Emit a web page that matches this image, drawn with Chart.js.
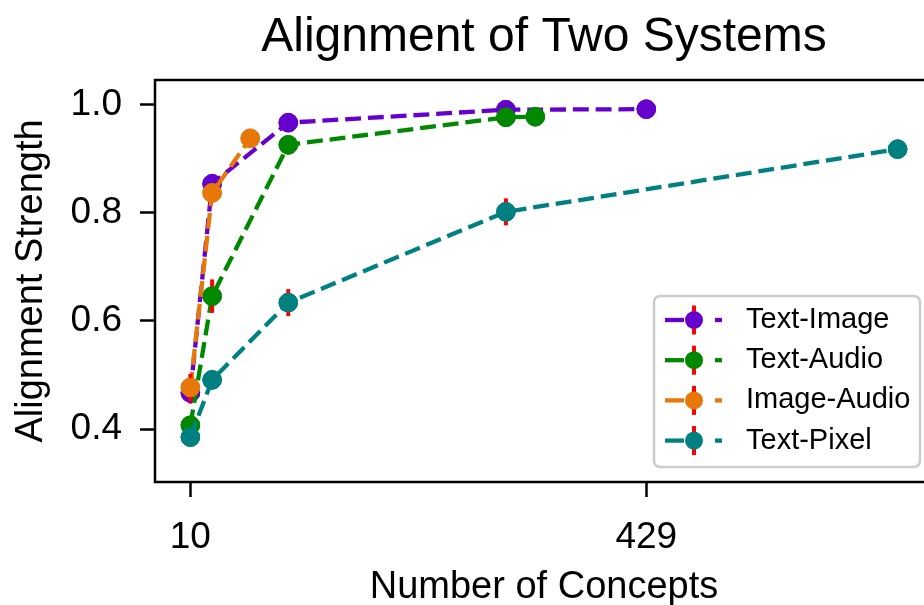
<!DOCTYPE html>
<html><head><meta charset="utf-8">
<script src="https://cdn.jsdelivr.net/npm/chart.js@4.4.1/dist/chart.umd.min.js"></script>
<style>
html,body{margin:0;padding:0;background:#fff;overflow:hidden;width:924px;height:605px;}
#wrap{position:absolute;left:0;top:0;width:960px;height:605px;}
canvas{display:block;}
</style></head><body>
<div id="wrap"><canvas id="c" width="960" height="605"></canvas></div>
<script>
const chartTitle = 'Alignment of Two Systems';
const xAxisLabel = 'Number of Concepts';
const yAxisLabel = 'Alignment Strength';
const seriesNames = ['Text-Image', 'Text-Audio', 'Image-Audio', 'Text-Pixel'];
const seriesColors = ['#6600cc', '#008800', '#e8770a', '#008080'];
const errorColor = '#ff0000';

const textImageX = [10, 30, 100, 300, 429];
const textImageY = [0.467, 0.854, 0.967, 0.991, 0.992];
const textImageErr = [0.02, 0.005, 0.004, 0.003, 0.002];

const textAudioX = [10, 30, 100, 300, 327];
const textAudioY = [0.407, 0.646, 0.926, 0.977, 0.978];
const textAudioErr = [0.008, 0.031, 0.006, 0.004, 0.003];

const imageAudioX = [10, 30, 65];
const imageAudioY = [0.477, 0.837, 0.938];
const imageAudioErr = [0.025, 0.006, 0.004];

const textPixelX = [10, 30, 100, 300, 660];
const textPixelY = [0.385, 0.491, 0.634, 0.802, 0.918];
const textPixelErr = [0.006, 0.017, 0.025, 0.025, 0.01];

const xTicks = [10, 429];
const yTicks = [0.4, 0.6, 0.8, 1.0];

const FONT = "'Liberation Sans', Arial, sans-serif";

const allX = [textImageX, textAudioX, imageAudioX, textPixelX];
const allY = [textImageY, textAudioY, imageAudioY, textPixelY];
const allErr = [textImageErr, textAudioErr, imageAudioErr, textPixelErr];

const datasets = seriesNames.map((name, k) => ({
  label: name,
  data: allX[k].map((x, i) => ({x: x, y: allY[k][i]})),
  err: allErr[k],
  borderColor: seriesColors[k],
  backgroundColor: seriesColors[k],
  pointBackgroundColor: seriesColors[k],
  pointBorderColor: seriesColors[k],
  pointBorderWidth: 1,
  pointRadius: 9.3,
  pointHoverRadius: 9.3,
  borderWidth: 4.3,
  borderDash: [15.9, 6.9],
  tension: 0,
  fill: false,
  order: seriesNames.length - 1 - k
}));

const errorBarPlugin = {
  id: 'errorBars',
  afterDatasetDraw(chart, args) {
    const ds = chart.data.datasets[args.index];
    const meta = args.meta;
    const ys = chart.scales.y;
    const ctx = chart.ctx;
    ctx.save();
    ctx.strokeStyle = errorColor;
    ctx.lineWidth = 4;
    ctx.setLineDash([]);
    meta.data.forEach((pt, i) => {
      const v = ds.data[i].y, e = ds.err[i];
      ctx.beginPath();
      ctx.moveTo(pt.x, ys.getPixelForValue(v + e));
      ctx.lineTo(pt.x, ys.getPixelForValue(v - e));
      ctx.stroke();
    });
    ctx.restore();
    meta.data.forEach(pt => pt.draw(ctx, chart.chartArea));
  }
};

const framePlugin = {
  id: 'frame',
  afterDatasetsDraw(chart) {
    const {ctx, chartArea: a} = chart;
    ctx.save();
    ctx.strokeStyle = '#000';
    ctx.lineWidth = 2.5;
    ctx.setLineDash([]);
    ctx.strokeRect(a.left, a.top, a.right - a.left, a.bottom - a.top);
    ctx.restore();
  }
};

const titlePlugin = {
  id: 'axesTitle',
  afterDraw(chart) {
    const {ctx, chartArea: a} = chart;
    ctx.save();
    ctx.fillStyle = '#000';
    ctx.font = '48px ' + FONT;
    ctx.textAlign = 'center';
    ctx.textBaseline = 'middle';
    ctx.fillText(chartTitle, (a.left + a.right) / 2, 38);
    ctx.restore();
  }
};

const legendPlugin = {
  id: 'customLegend',
  afterDraw(chart) {
    const ctx = chart.ctx;
    const bx = 654, by = 296, bw = 266, bh = 171, r = 6;
    ctx.save();
    ctx.beginPath();
    ctx.moveTo(bx + r, by);
    ctx.arcTo(bx + bw, by, bx + bw, by + bh, r);
    ctx.arcTo(bx + bw, by + bh, bx, by + bh, r);
    ctx.arcTo(bx, by + bh, bx, by, r);
    ctx.arcTo(bx, by, bx + bw, by, r);
    ctx.closePath();
    ctx.fillStyle = 'rgba(255,255,255,0.85)';
    ctx.fill();
    ctx.strokeStyle = '#cccccc';
    ctx.lineWidth = 2.5;
    ctx.stroke();
    chart.data.datasets.forEach((ds, k) => {
      const y = 320 + k * 40.2;
      const col = ds.borderColor;
      ctx.strokeStyle = col;
      ctx.lineWidth = 4.3;
      ctx.lineCap = 'butt';
      ctx.beginPath(); ctx.moveTo(665, y); ctx.lineTo(684, y); ctx.stroke();
      ctx.beginPath(); ctx.moveTo(715, y); ctx.lineTo(722, y); ctx.stroke();
      ctx.strokeStyle = errorColor;
      ctx.lineWidth = 4;
      ctx.beginPath(); ctx.moveTo(694, y - 14.5); ctx.lineTo(694, y + 14.5); ctx.stroke();
      ctx.fillStyle = col;
      ctx.beginPath(); ctx.arc(694, y, 9, 0, Math.PI * 2); ctx.fill();
      ctx.fillStyle = '#000';
      ctx.font = '29px ' + FONT;
      ctx.textAlign = 'left';
      ctx.textBaseline = 'middle';
      ctx.fillText(ds.label, 746, y);
    });
    ctx.restore();
  }
};

new Chart(document.getElementById('c'), {
  type: 'line',
  data: { datasets: datasets },
  options: {
    responsive: false,
    animation: false,
    devicePixelRatio: 1,
    layout: { padding: { left: 0, right: 27, top: 80, bottom: 0 } },
    plugins: {
      legend: { display: false },
      tooltip: { enabled: false },
      title: { display: false }
    },
    scales: {
      x: {
        type: 'linear',
        min: -22.5,
        max: 692.5,
        afterBuildTicks(scale) { scale.ticks = xTicks.map(v => ({value: v})); },
        afterFit(scale) { scale.height = 123; },
        ticks: {
          color: '#000',
          font: { family: FONT, size: 37, lineHeight: 1.2 },
          padding: 19,
          maxRotation: 0,
          autoSkip: false,
          callback: v => String(v)
        },
        grid: { drawOnChartArea: false, drawTicks: true, tickLength: 15, tickWidth: 2.5, tickColor: '#000' },
        border: { display: false },
        title: {
          display: true,
          text: xAxisLabel,
          color: '#000',
          font: { family: FONT, size: 38, lineHeight: 1.2 },
          padding: { top: 0, bottom: -5 }
        }
      },
      y: {
        type: 'linear',
        min: 0.302,
        max: 1.046,
        afterBuildTicks(scale) { scale.ticks = yTicks.map(v => ({value: v})); },
        afterFit(scale) { scale.width = 155; },
        ticks: {
          color: '#000',
          font: { family: FONT, size: 37, lineHeight: 1.2 },
          padding: 18,
          autoSkip: false,
          callback: v => Number(v).toFixed(1)
        },
        grid: { drawOnChartArea: false, drawTicks: true, tickLength: 15, tickWidth: 2.5, tickColor: '#000' },
        border: { display: false },
        title: {
          display: true,
          text: yAxisLabel,
          color: '#000',
          font: { family: FONT, size: 38, lineHeight: 1.2 },
          padding: { top: 9, bottom: 0 }
        }
      }
    }
  },
  plugins: [errorBarPlugin, framePlugin, titlePlugin, legendPlugin]
});
</script>
</body></html>
